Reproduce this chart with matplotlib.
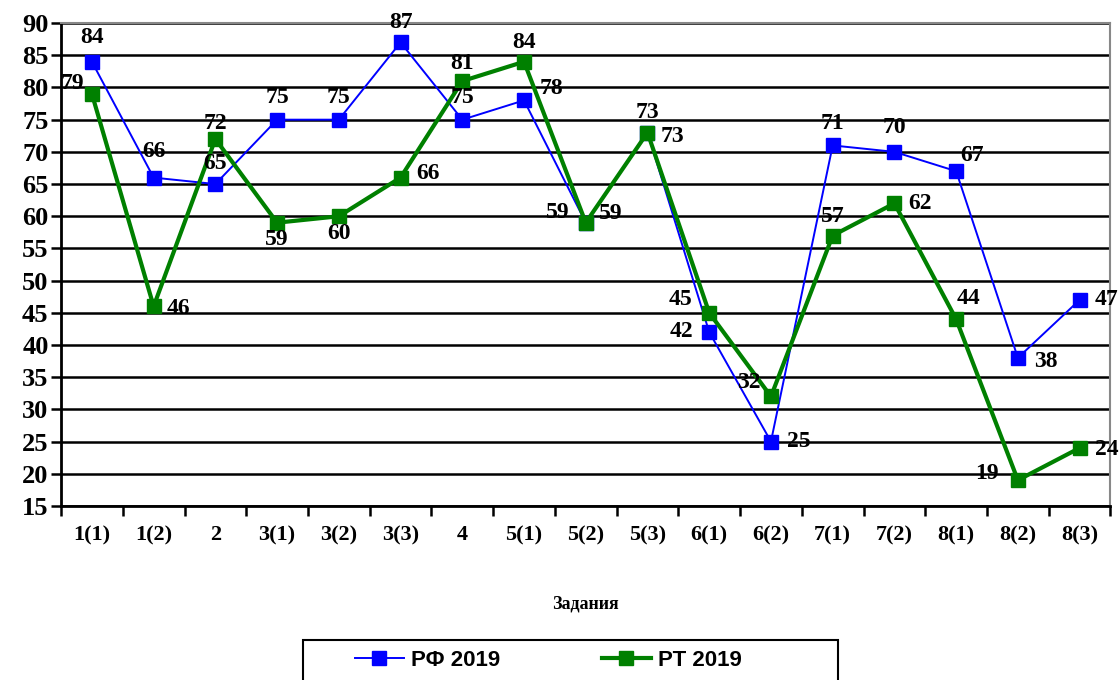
import matplotlib
matplotlib.use("Agg")
import matplotlib.pyplot as plt
from matplotlib.patches import Rectangle
import numpy as np

# data
tasks = ["1(1)", "1(2)", "2", "3(1)", "3(2)", "3(3)", "4", "5(1)", "5(2)",
         "5(3)", "6(1)", "6(2)", "7(1)", "7(2)", "8(1)", "8(2)", "8(3)"]
rf_2019 = [84, 66, 65, 75, 75, 87, 75, 78, 59, 73, 42, 25, 71, 70, 67, 38, 47]
rt_2019 = [79, 46, 72, 59, 60, 66, 81, 84, 59, 73, 45, 32, 57, 62, 44, 19, 24]

# where each value label sits relative to its marker (pixels)
rf_off = [(0, 24), (0, 26), (0, 21), (0, 22), (0, 22), (0, 20), (0, 22), (27, 12),
          (-28, 10), (0, 20), (-28, 1), (28, 0), (0, 22), (0, 24), (16, 16),
          (28, -4), (27, 0)]
rt_off = [(-19, 10), (25, -2), (0, 15), (0, -17), (0, -17), (27, 4), (0, 18),
          (0, 19), (25, 9), (25, -4), (-29, 13), (-22, 14), (0, 19), (26, 0),
          (12, 21), (-31, 7), (27, -2)]

x = np.arange(len(tasks)) + 0.5

fig = plt.figure(figsize=(11.2, 6.8), dpi=100)
ax = fig.add_axes([0.0545, 0.256, 0.937, 0.71])

serif = "Liberation Serif"
ax.plot(x, rf_2019, color="#0000ff", lw=1.4, marker="s", ms=10.5,
        label="РФ 2019", zorder=3)
ax.plot(x, rt_2019, color="#008000", lw=3, marker="s", ms=10.5,
        label="РТ 2019", zorder=4)

for xi, v, o in zip(x, rf_2019, rf_off):
    ax.annotate(str(v), (xi, v), xytext=o, textcoords="offset pixels",
                ha="center", va="center", fontsize=17, fontweight="bold",
                family=serif, zorder=5)
for xi, v, o in zip(x, rt_2019, rt_off):
    ax.annotate(str(v), (xi, v), xytext=o, textcoords="offset pixels",
                ha="center", va="center", fontsize=17, fontweight="bold",
                family=serif, zorder=5)

ax.set_xlim(0, len(tasks))
ax.set_ylim(15, 90)
ax.set_yticks(range(15, 91, 5))
ax.yaxis.grid(True, color="black", lw=1.8)
ax.set_axisbelow(True)
ax.set_xticks(np.arange(len(tasks) + 1))
ax.set_xticklabels([])
ax.set_xticks(x, minor=True)
ax.set_xticklabels(tasks, minor=True)
ax.tick_params(axis="x", which="minor", length=0, pad=14)
ax.tick_params(axis="x", which="major", length=7, width=1.8, direction="out")
ax.tick_params(axis="y", length=7, width=1.8, pad=2)
for lab in ax.get_xticklabels(minor=True):
    lab.set_family(serif)
    lab.set_fontweight("bold")
    lab.set_fontsize(16)
for lab in ax.get_yticklabels():
    lab.set_family(serif)
    lab.set_fontweight("bold")
    lab.set_fontsize(19)

for s in ["left", "bottom"]:
    ax.spines[s].set_linewidth(2)
for s in ["top", "right"]:
    ax.spines[s].set_color("#888888")
    ax.spines[s].set_linewidth(1.5)

ax.set_xlabel("Задания", family=serif, fontweight="bold", fontsize=13,
              labelpad=36)

# legend box (runs off the bottom edge as in the original)
fig.patches.append(Rectangle((303 / 1120, -0.05), 535 / 1120, 0.05 + 40 / 680,
                             transform=fig.transFigure, fill=False,
                             edgecolor="black", lw=1.5))
leg = fig.legend(loc="center left", bbox_to_anchor=(355 / 1120, 0.029),
                 ncol=2, frameon=False,
                 prop={"family": "Liberation Sans", "weight": "bold", "size": 16},
                 handlelength=2.2, handletextpad=0.3, columnspacing=4.6,
                 borderaxespad=0, borderpad=0)

fig.savefig("out.png", dpi=100)
